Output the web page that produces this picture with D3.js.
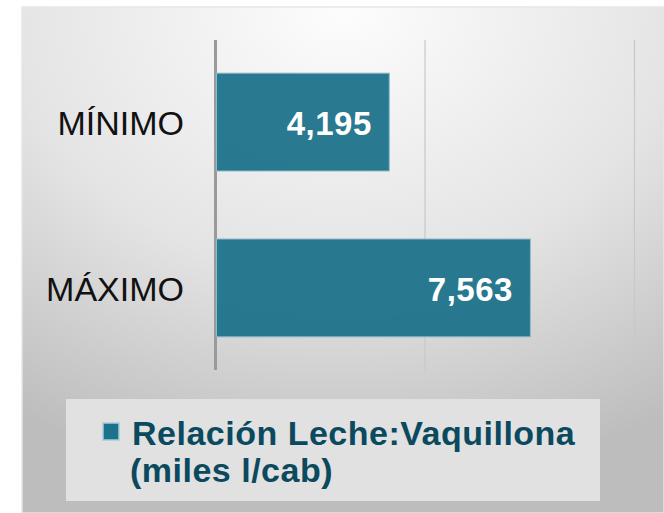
<!DOCTYPE html>
<html>
<head>
<meta charset="utf-8">
<script src="https://cdn.jsdelivr.net/npm/d3@7"></script>
<style>
  body { margin: 0; background: #fff; }
  svg { display: block; font-family: "Liberation Sans", Arial, sans-serif; }
</style>
</head>
<body>
<svg id="chart" width="664" height="513"></svg>
<script>
// datos
var categories = ["MÍNIMO", "MÁXIMO"];
var values = [4195, 7563];
var legendLines = ["Relación Leche:Vaquillona", "(miles l/cab)"];
var xTicks = [0, 5000, 10000];

var svg = d3.select("#chart");

// fondo con degradado radial
var defs = svg.append("defs");
var grad = defs.append("radialGradient")
    .attr("id", "bg")
    .attr("cx", "50%").attr("cy", "0%")
    .attr("r", "95%")
    .attr("gradientUnits", "objectBoundingBox");
grad.append("stop").attr("offset", "0%").attr("stop-color", "#fdfdfd");
grad.append("stop").attr("offset", "55%").attr("stop-color", "#e4e4e4");
grad.append("stop").attr("offset", "100%").attr("stop-color", "#bdbdbd");

svg.append("rect")
    .attr("x", 22).attr("y", 7)
    .attr("width", 642).attr("height", 506)
    .attr("fill", "url(#bg)")
    .attr("stroke", "#e6e6e6")
    .attr("stroke-width", 1.5);

var x = d3.scaleLinear().domain([0, 10000]).range([215, 634]);
var y = d3.scaleBand().domain(categories).range([40, 370])
    .paddingInner(0.41).paddingOuter(0.2);

// lineas de grilla
var grid = svg.append("g")
    .attr("transform", "translate(0,370)")
    .call(d3.axisBottom(x).tickValues(xTicks).tickSize(-330).tickFormat(""));
grid.select(".domain").remove();
grid.selectAll(".tick line")
    .attr("stroke", "#c8c8c8")
    .attr("stroke-width", 1.2);
grid.selectAll(".tick").filter(function(d) { return d === 0; }).select("line")
    .attr("stroke", "#9a9a9a")
    .attr("stroke-width", 3);

// barras
svg.selectAll("rect.bar")
    .data(values)
  .enter().append("rect")
    .attr("class", "bar")
    .attr("x", x(0) + 1.5)
    .attr("y", function(d, i) { return y(categories[i]); })
    .attr("width", function(d) { return x(d) - x(0) - 3; })
    .attr("height", y.bandwidth())
    .attr("fill", "#1d728b")
    .attr("fill-opacity", 0.95)
    .attr("stroke", "#8fbccb")
    .attr("stroke-width", 1);

// etiquetas de valor
var fmt = d3.format(",");
svg.selectAll("text.val")
    .data(values)
  .enter().append("text")
    .attr("class", "val")
    .attr("x", function(d) { return x(d) - 19; })
    .attr("y", function(d, i) { return y(categories[i]) + y.bandwidth() / 2; })
    .attr("dy", "0.4em")
    .attr("text-anchor", "end")
    .attr("fill", "#fff")
    .attr("font-size", "33px")
    .attr("font-weight", "bold")
    .attr("letter-spacing", "0.5px")
    .text(function(d) { return fmt(d); });

// categorias
svg.selectAll("text.cat")
    .data(categories)
  .enter().append("text")
    .attr("class", "cat")
    .attr("x", 184)
    .attr("y", function(d) { return y(d) + y.bandwidth() / 2; })
    .attr("dy", "0.38em")
    .attr("text-anchor", "end")
    .attr("fill", "#111")
    .attr("font-size", "34px")
    .text(function(d) { return d; });

// leyenda
var leg = svg.append("g");
leg.append("rect")
    .attr("x", 66).attr("y", 399)
    .attr("width", 534).attr("height", 102)
    .attr("fill", "#e1e1e1");
leg.append("rect")
    .attr("x", 103).attr("y", 423)
    .attr("width", 16).attr("height", 17)
    .attr("fill", "#1d728b")
    .attr("stroke", "#a9cbd6")
    .attr("stroke-width", 1.5);
leg.selectAll("text")
    .data(legendLines)
  .enter().append("text")
    .attr("x", function(d, i) { return i === 0 ? 132 : 130; })
    .attr("y", function(d, i) { return 445 + i * 37; })
    .attr("fill", "#0b4a5e")
    .attr("font-size", "34px")
    .attr("font-weight", "bold")
    .attr("letter-spacing", "0.5px")
    .text(function(d) { return d; });
</script>
</body>
</html>
